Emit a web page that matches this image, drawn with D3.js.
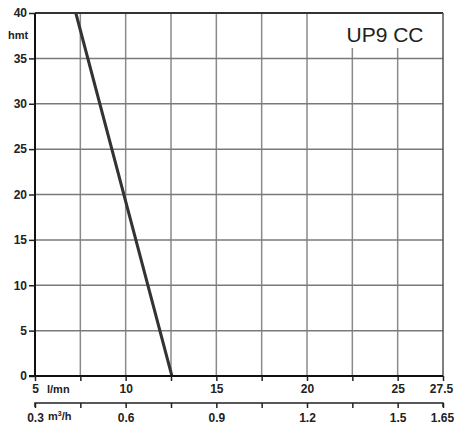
<!DOCTYPE html>
<html><head><meta charset="utf-8">
<script src="https://cdn.jsdelivr.net/npm/d3@7"></script>
<style>body{margin:0;background:#fff}svg{display:block}</style>
</head><body>
<script>
// Data
const flowTicks = [5, 10, 15, 20, 25, 27.5];          // l/mn labels
const flowGrid = [7.5, 10, 12.5, 15, 17.5, 20, 22.5, 25];
const m3hTicks = [0.3, 0.6, 0.9, 1.2, 1.5, 1.65];       // m³/h labels
const m3hMinor = [0.45, 0.75, 1.05, 1.35];
const headTicks = [0, 5, 10, 15, 20, 25, 30, 35, 40];
const curveFlow = [7.25, 9.9, 12.55];
const curveHead = [40, 20, 0];
const title = "UP9 CC";

const W = 456, H = 424;
const L = 35, R = 443, T = 13, B = 376, Y2 = 403;
const svg = d3.select("body").append("svg").attr("width", W).attr("height", H);
const font = "'Liberation Sans', Arial, sans-serif";

const x = d3.scaleLinear().domain([5, 27.5]).range([L, R]);
const x2 = d3.scaleLinear().domain([0.3, 1.65]).range([L, R]);
const y = d3.scaleLinear().domain([0, 40]).range([B, T]);

// grid
svg.append("g").selectAll("line").data(flowGrid).join("line")
  .attr("x1", d => x(d)).attr("x2", d => x(d)).attr("y1", T).attr("y2", B)
  .attr("stroke", "#8a8a8a").attr("stroke-width", 1.5);
svg.append("g").selectAll("line").data(headTicks.filter(d => d > 0 && d < 40)).join("line")
  .attr("x1", L).attr("x2", R).attr("y1", d => y(d)).attr("y2", d => y(d))
  .attr("stroke", "#7a7a7a").attr("stroke-width", 1.5);

// frame top/right
svg.append("line").attr("x1", L).attr("x2", R).attr("y1", T).attr("y2", T).attr("stroke", "#333").attr("stroke-width", 2);
svg.append("line").attr("x1", R).attr("x2", R).attr("y1", T).attr("y2", B).attr("stroke", "#555").attr("stroke-width", 1.5);

// title box
svg.append("rect").attr("x", 328).attr("y", 14).attr("width", R - 328 - 1).attr("height", 34).attr("fill", "#fff");
svg.append("text").attr("x", 385).attr("y", 41.5).attr("text-anchor", "middle")
  .attr("font-family", font).attr("font-size", 21).attr("fill", "#222").text(title);

// curve
const line = d3.line().x((d, i) => x(d)).y((d, i) => y(curveHead[i]));
svg.append("path").attr("d", line(curveFlow)).attr("fill", "none")
  .attr("stroke", "#333").attr("stroke-width", 3);

// Y axis
const yAxis = d3.axisLeft(y).tickValues(headTicks).tickSize(6).tickPadding(2).tickFormat(d3.format("d"));
const gy = svg.append("g").attr("transform", `translate(${L},0)`).call(yAxis);
gy.select(".domain").attr("stroke", "#111").attr("stroke-width", 2).attr("d", `M0,${T}V${B}`);
gy.selectAll(".tick line").attr("stroke", "#222").attr("stroke-width", 1.5);
gy.selectAll("text").attr("font-family", font).attr("font-size", 12).attr("font-weight", "bold").attr("fill", "#222");
svg.append("text").attr("x", 18).attr("y", 39).attr("text-anchor", "middle")
  .attr("font-family", font).attr("font-size", 11).attr("font-weight", "bold").attr("fill", "#222").text("hmt");

// X axis (l/mn)
const xAxis = d3.axisBottom(x).tickValues(flowGrid.concat([5, 27.5])).tickSize(5).tickPadding(3)
  .tickFormat(d => flowTicks.includes(d) ? d3.format("")(d) : "");
const gx = svg.append("g").attr("transform", `translate(0,${B})`).call(xAxis);
gx.select(".domain").attr("stroke", "#111").attr("stroke-width", 2).attr("d", `M${L-6},0H${R}`);
gx.selectAll(".tick line").attr("stroke", "#222").attr("stroke-width", 1.5);
gx.selectAll("text").attr("font-family", font).attr("font-size", 12).attr("font-weight", "bold").attr("fill", "#222");
gx.selectAll(".tick").filter(d => d === 27.5).select("text").attr("dx", -2);
svg.append("text").attr("x", 47).attr("y", 393).attr("font-family", font).attr("font-size", 11)
  .attr("font-weight", "bold").attr("fill", "#222").text("l/mn");

// second X axis (m³/h)
const x2Axis = d3.axisBottom(x2).tickValues(m3hTicks.concat(m3hMinor)).tickSize(5).tickPadding(5)
  .tickFormat(d => m3hTicks.includes(d) ? String(d) : "");
const gx2 = svg.append("g").attr("transform", `translate(0,${Y2})`).call(x2Axis);
gx2.select(".domain").attr("stroke", "#222").attr("stroke-width", 1.5).attr("d", `M${L},4V0H${R}V4`);
gx2.selectAll(".tick line").attr("stroke", "#222").attr("stroke-width", 1.5);
gx2.selectAll("text").attr("font-family", font).attr("font-size", 12).attr("font-weight", "bold").attr("fill", "#222");
gx2.selectAll(".tick").filter(d => d === 1.65).select("text").attr("dx", -1);
const u = svg.append("text").attr("x", 48).attr("y", 420).attr("font-family", font).attr("font-size", 11)
  .attr("font-weight", "bold").attr("fill", "#222");
u.append("tspan").text("m");
u.append("tspan").attr("font-size", 7).attr("dy", -4).text("3");
u.append("tspan").attr("dy", 4).text("/h");
</script>
</body></html>
